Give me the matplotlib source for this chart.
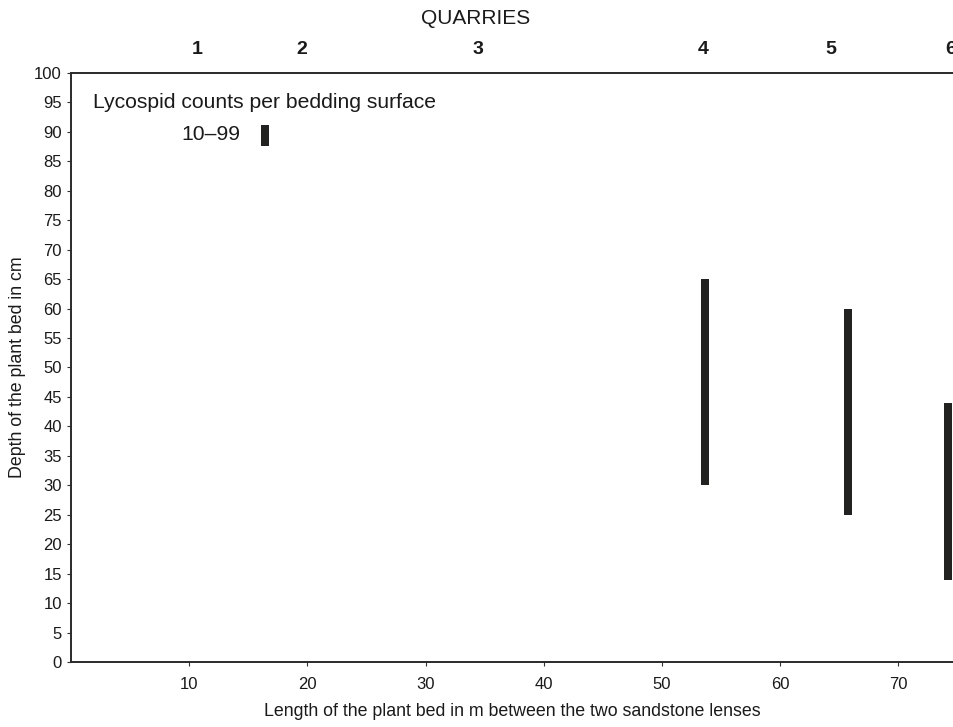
import numpy as np
import matplotlib.pyplot as plt

plt.rcParams['font.family'] = ['Liberation Sans', 'DejaVu Sans']

# quarry positions along the plant bed (m)
quarry_names = ["1", "2", "3", "4", "5", "6"]
quarry_x = [10.7, 19.5, 34.4, 53.5, 64.3, 74.4]

# depth ranges (cm) with 10-99 lycospids per bedding surface
bar_x = [53.6, 65.7, 74.2]
bar_bottom = [30, 25, 14]
bar_top = [65, 60, 44]

# legend sample bar
legend_x = 16.4
legend_range = [87.6, 91.2]

ink = "#222220"

fig = plt.figure(figsize=(9.54, 7.27), dpi=100)
ax = fig.add_axes([0.0744, 0.0894, 0.9256, 0.8102])

heights = np.array(bar_top) - np.array(bar_bottom)
ax.bar(bar_x, heights, bottom=bar_bottom, width=0.68, color=ink, linewidth=0)
ax.bar([legend_x], [legend_range[1] - legend_range[0]], bottom=legend_range[0],
       width=0.68, color=ink, linewidth=0)

ax.text(1.85, 95, "Lycospid counts per bedding surface", fontsize=15.2,
        va="center", ha="left", color="#1a1a1a")
ax.text(14.3, 89.5, "10\u201399", fontsize=15.2, va="center", ha="right", color="#1a1a1a")

ax.set_xlim(0, 74.7)
ax.set_ylim(0, 100)
ax.set_xticks(np.arange(10, 71, 10))
ax.set_yticks(np.arange(0, 101, 5))
ax.tick_params(axis="both", labelsize=12, length=3, width=0.8, colors="#333333",
               labelcolor="#1a1a1a")
ax.tick_params(axis="x", pad=8)

for s in ["left", "bottom", "top"]:
    ax.spines[s].set_linewidth(1.4)
    ax.spines[s].set_color("#2a2a2a")
ax.spines["right"].set_visible(False)

trans = ax.get_xaxis_transform()
for name, qx in zip(quarry_names, quarry_x):
    ax.text(qx, 1.04, name, transform=trans, ha="center", va="center",
            fontsize=14, fontweight="bold", color="#1a1a1a")
ax.text(34.2, 1.093, "QUARRIES", transform=trans, ha="center", va="center",
        fontsize=15, color="#1a1a1a")

ax.set_xlabel("Length of the plant bed in m between the two sandstone lenses",
              fontsize=12.8, labelpad=8, color="#1a1a1a")
ax.set_ylabel("Depth of the plant bed in cm", fontsize=12.8, labelpad=6, color="#1a1a1a")

fig.savefig("out.png", dpi=100)
